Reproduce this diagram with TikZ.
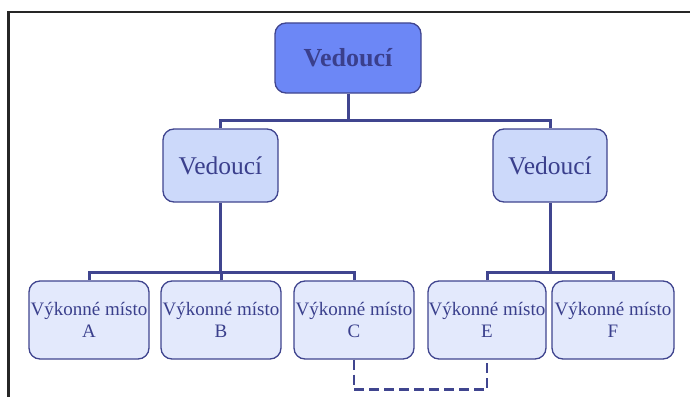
\documentclass[tikz,border=0pt]{standalone}
\usepackage{fontspec}
\setmainfont{Liberation Serif}
\definecolor{edgeblue}{HTML}{40458F}
\definecolor{textblue}{HTML}{3A3F8C}
\definecolor{topfill}{HTML}{6C87F6}
\definecolor{midfill}{HTML}{CCD9FA}
\definecolor{lowfill}{HTML}{E3E9FC}
\tikzset{
  box/.style={draw=edgeblue, line width=1.3pt, rounded corners=11pt,
    text=textblue, align=center, inner sep=0pt},
  headbox/.style={box, fill=topfill, minimum width=146pt, minimum height=70pt,
    font=\fontsize{26}{30}\selectfont\bfseries},
  chiefbox/.style={box, fill=midfill, minimum height=73pt,
    font=\fontsize{25.5}{30}\selectfont},
  unitbox/.style={box, fill=lowfill, minimum height=78pt,
    font=\fontsize{19}{22}\selectfont},
  link/.style={draw=edgeblue, line width=3pt},
  dashlink/.style={draw=edgeblue, line width=2.8pt, dash pattern=on 10pt off 5pt}
}
\begin{document}
\begin{tikzpicture}[x=1pt,y=-1pt]
  \useasboundingbox (0,0) rectangle (690,396);
  \fill[white] (0,0) rectangle (690,396);
  % outer frame
  \draw[line width=2.4pt, black!85] (8.5,420) -- (8.5,12) -- (720,12);

  % boxes
  \node[headbox] (head) at (348,58) {Vedoucí};
  \node[chiefbox, minimum width=115pt] (chiefL) at (220.5,165.5) {Vedoucí};
  \node[chiefbox, minimum width=114pt] (chiefR) at (550,165.5) {Vedoucí};
  \node[unitbox, minimum width=120pt] (uA) at (89,320) {Výkonné místo\\A};
  \node[unitbox, minimum width=120pt] (uB) at (221,320) {Výkonné místo\\B};
  \node[unitbox, minimum width=120pt] (uC) at (354,320) {Výkonné místo\\C};
  \node[unitbox, minimum width=118pt] (uE) at (487,320) {Výkonné místo\\E};
  \node[unitbox, minimum width=122pt] (uF) at (613,320) {Výkonné místo\\F};

  % bus points
  \coordinate (busTop) at (348,120);
  \coordinate (busL) at (220.5,272);
  \coordinate (busR) at (550,272);

  % connectors
  \draw[link] (head.south) -- (busTop);
  \draw[link] (chiefL.north) |- (busTop) -| (chiefR.north);
  \draw[link] (chiefL.south) -- (busL);
  \draw[link] (uA.north) |- (busL) -| (uC.north);
  \draw[link] (uB.north) -- (uB.north |- busL);
  \draw[link] (chiefR.south) -- (busR);
  \draw[link] (uE.north) |- (busR) -| (uF.north);

  % dashed link between C and E
  \draw[dashlink] (uC.south) -- ++(0,30) -| (uE.south);
\end{tikzpicture}
\end{document}
